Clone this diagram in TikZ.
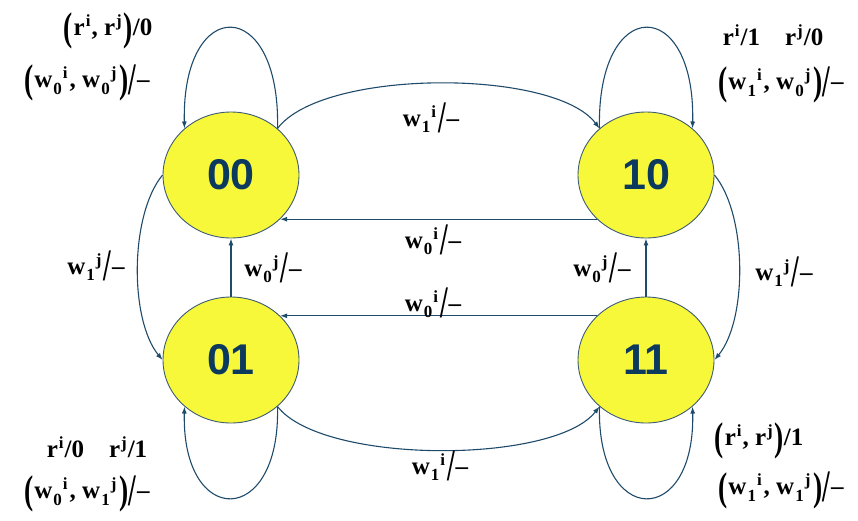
\documentclass[tikz,border=0pt]{standalone}
\usepackage{fontspec}
\usepackage{amsmath, amssymb}
\setmainfont{Liberation Serif}
\newfontfamily\statefont{Liberation Sans}
\usetikzlibrary{arrows.meta, shapes.geometric}

\definecolor{edgeblue}{HTML}{1F4B6B}
\definecolor{stateyellow}{HTML}{F8F83A}
\definecolor{statetext}{HTML}{0B3A5E}
\definecolor{stateline}{HTML}{3E5C74}

% label pieces
\newcommand{\sups}[1]{\raisebox{0.8ex}{\fontsize{17}{17}\selectfont\kern1pt#1}}
\newcommand{\subs}[1]{\raisebox{-0.55ex}{\fontsize{17}{17}\selectfont\kern1pt#1}}
\newcommand{\wl}[2]{w\subs{#1}\sups{#2}\kern2pt}
\newcommand{\rl}[1]{r\sups{#1}\kern1pt}
\newcommand{\lpar}{\raisebox{-0.45ex}{\scalebox{1.1}[1.6]{(}}\kern1pt}
\newcommand{\rpar}{\kern1pt\raisebox{-0.45ex}{\scalebox{1.1}[1.6]{)}}}
\newcommand{\tsl}{\raisebox{-0.55ex}{\scalebox{1.1}[1.8]{/}}}
\newcommand{\none}{\kern1pt--}

\tikzset{
    state/.style={ellipse, draw=stateline, line width=0.9pt, fill=stateyellow,
        minimum width=136pt, minimum height=126pt, inner sep=0pt,
        text=statetext, font=\statefont\bfseries\fontsize{43}{48}\selectfont},
    trans/.style={draw=edgeblue, line width=1.1pt, -{Latex[length=7pt,width=5pt]}},
    lbl/.style={font=\bfseries\fontsize{25}{29}\selectfont, inner sep=0pt}
}

\begin{document}
\begin{tikzpicture}[x=1pt, y=-1pt]
    \useasboundingbox (0,0) rectangle (858,520);

    % States
    \node[state] (s00) at (231,175) {00};
    \node[state] (s10) at (646,175) {10};
    \node[state] (s01) at (231,360) {01};
    \node[state] (s11) at (646,360) {11};

    % Self loops
    \draw[trans] (s00.45) .. controls +(3,-134) and +(-3,-134) .. (s00.135);
    \draw[trans] (s10.135) .. controls +(-3,-134) and +(3,-134) .. (s10.45);
    \draw[trans] (s01.-45) .. controls +(3,122) and +(-3,122) .. (s01.-135);
    \draw[trans] (s11.-135) .. controls +(-3,122) and +(3,122) .. (s11.-45);

    % Arcs between the two columns
    \draw[trans] (s00.45) .. controls +(45,-60) and +(-45,-60) .. (s10.135);
    \draw[trans] (s01.-45) .. controls +(45,58) and +(-45,58) .. (s11.-135);

    % Straight transitions
    \draw[trans] (s10.222) -- (s00.-42);
    \draw[trans] (s11.138) -- (s01.42);
    \draw[trans] (s01.north) -- (s00.south);
    \draw[trans] (s11.north) -- (s10.south);

    % Side curves
    \draw[trans] (s00.west) .. controls +(-33,40) and +(-33,-40) .. (s01.west);
    \draw[trans] (s10.east) .. controls +(33,40) and +(33,-40) .. (s11.east);

    % Loop labels
    \node[lbl] (l00a) at (108,31) {\lpar\rl{i}, \rl{j}\rpar/0};
    \node[lbl] (l00b) at (87,83) {\lpar\wl{0}{i}, \wl{0}{j}\rpar\tsl\none};
    \node[lbl] (l10a) at (773,35) {\rl{i}/1\quad\rl{j}/0};
    \node[lbl] (l10b) at (781,85) {\lpar\wl{1}{i}, \wl{0}{j}\rpar\tsl\none};
    \node[lbl] (l01a) at (97,447) {\rl{i}/0\quad\rl{j}/1};
    \node[lbl] (l01b) at (87,494) {\lpar\wl{0}{i}, \wl{1}{j}\rpar\tsl\none};
    \node[lbl] (l11a) at (759,441) {\lpar\rl{i}, \rl{j}\rpar/1};
    \node[lbl] (l11b) at (781,490) {\lpar\wl{1}{i}, \wl{1}{j}\rpar\tsl\none};

    % Transition labels
    \node[lbl] (t0010) at (431,118) {\wl{1}{i}\tsl\none};
    \node[lbl] (t1000) at (433,240) {\wl{0}{i}\tsl\none};
    \node[lbl] (t1101) at (433,303) {\wl{0}{i}\tsl\none};
    \node[lbl] (t0100) at (273,268) {\wl{0}{j}\tsl\none};
    \node[lbl] (t1110) at (602,268) {\wl{0}{j}\tsl\none};
    \node[lbl] (t0001) at (96,266) {\wl{1}{j}\tsl\none};
    \node[lbl] (t1011) at (784,272) {\wl{1}{j}\tsl\none};
    \node[lbl] (t0111) at (440,466) {\wl{1}{i}\tsl\none};
\end{tikzpicture}
\end{document}
